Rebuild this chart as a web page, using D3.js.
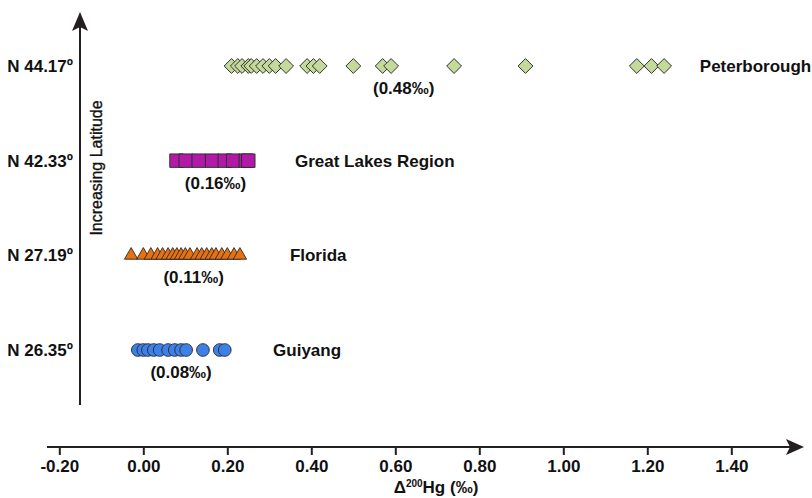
<!DOCTYPE html>
<html>
<head>
<meta charset="utf-8">
<script src="https://cdn.jsdelivr.net/npm/d3@7"></script>
<style>
  html, body { margin: 0; padding: 0; background: #fff; }
  svg { display: block; font-family: "Liberation Sans", Arial, sans-serif; }
</style>
</head>
<body>
<svg id="chart" width="812" height="498"></svg>
<script>
// Latitude rows, top to bottom
const latitudes = ["N 44.17º", "N 42.33º", "N 27.19º", "N 26.35º"];
const sites = ["Peterborough", "Great Lakes Region", "Florida", "Guiyang"];
const meanLabels = ["(0.48‰)", "(0.16‰)", "(0.11‰)", "(0.08‰)"];

// Δ200Hg values (‰) per site
const peterborough = [0.21, 0.225, 0.235, 0.25, 0.257, 0.27, 0.285, 0.30, 0.315, 0.34,
                      0.39, 0.405, 0.42, 0.50, 0.57, 0.59, 0.74, 0.91, 1.175, 1.21, 1.24];
const greatLakes = [0.079, 0.101, 0.132, 0.164, 0.194, 0.214, 0.244, 0.25];
const florida = [-0.029, 0.0, 0.018, 0.034, 0.046, 0.059, 0.07, 0.08, 0.09, 0.1,
                 0.111, 0.128, 0.139, 0.151, 0.163, 0.173, 0.187, 0.2, 0.216, 0.23];
const guiyang = [-0.013, 0.0, 0.011, 0.025, 0.039, 0.059, 0.075, 0.09, 0.102, 0.142, 0.182, 0.194];

const xTicks = [-0.2, 0, 0.2, 0.4, 0.6, 0.8, 1.0, 1.2, 1.4];

// Per-row drawing style
const rows = [
  { values: peterborough, shape: "diamond",  fill: "#C5D99B", labelAt: 0.62,  nameAt: 1.325 },
  { values: greatLakes,   shape: "square",   fill: "#B01AA6", labelAt: 0.172, nameAt: 0.361 },
  { values: florida,      shape: "triangle", fill: "#E8700E", labelAt: 0.12,  nameAt: 0.349 },
  { values: guiyang,      shape: "circle",   fill: "#3D80E8", labelAt: 0.09,  nameAt: 0.309 }
];

const svg = d3.select("#chart");
const ink = "#231f20";
const fs = 17;

const x = d3.scaleLinear().domain([-0.2, 1.4]).range([59.3, 731.3]);
const y = d3.scalePoint().domain(latitudes).range([66, 350]);

const axisY = 447;
const yAxisX = 80;

// Horizontal axis with arrow
const xAxis = d3.axisBottom(x)
  .tickValues(xTicks)
  .tickSize(8)
  .tickPadding(5)
  .tickFormat(d => d3.format(".2f")(d).replace("−", "-"));

const gx = svg.append("g").attr("transform", `translate(0,${axisY})`).call(xAxis);
gx.select(".domain").remove();
gx.selectAll(".tick line").attr("stroke", ink).attr("stroke-width", 2);
gx.selectAll(".tick text")
  .attr("fill", "#111").attr("font-size", fs).attr("font-weight", "bold")
  .attr("font-family", "Liberation Sans, Arial, sans-serif");

svg.append("line")
  .attr("x1", 47).attr("x2", 792).attr("y1", axisY).attr("y2", axisY)
  .attr("stroke", ink).attr("stroke-width", 2);
svg.append("path")
  .attr("d", `M804,${axisY} L786,${axisY - 8} L790,${axisY} L786,${axisY + 8} Z`)
  .attr("fill", ink);

// Axis title with superscript mass number
const title = svg.append("text")
  .attr("x", 436).attr("y", 493)
  .attr("text-anchor", "middle")
  .attr("font-size", fs).attr("font-weight", "bold").attr("fill", "#111");
title.append("tspan").text("Δ");
title.append("tspan").attr("font-size", 10).attr("dy", -6).text("200");
title.append("tspan").attr("dy", 6).text("Hg (‰)");

// Vertical latitude arrow
svg.append("line")
  .attr("x1", yAxisX).attr("x2", yAxisX).attr("y1", 405).attr("y2", 26)
  .attr("stroke", ink).attr("stroke-width", 2);
svg.append("path")
  .attr("d", `M${yAxisX},12 L${yAxisX + 8},31 L${yAxisX},27 L${yAxisX - 8},31 Z`)
  .attr("fill", ink);

svg.append("text")
  .attr("transform", `translate(102,168) rotate(-90)`)
  .attr("text-anchor", "middle")
  .attr("font-size", 16).attr("fill", "#111")
  .attr("stroke", "#111").attr("stroke-width", 0.35)
  .text("Increasing Latitude");

// Latitude labels
svg.selectAll(".lat")
  .data(latitudes)
  .join("text")
  .attr("class", "lat")
  .attr("x", 73).attr("y", d => y(d) + 6)
  .attr("text-anchor", "end")
  .attr("font-size", fs).attr("font-weight", "bold").attr("fill", "#111")
  .text(d => d);

// Markers
const symbolFor = {
  diamond: d3.symbol().type(d3.symbolSquare).size(110),
  square: d3.symbol().type(d3.symbolSquare).size(182),
  triangle: d3.symbol().type(d3.symbolTriangle).size(78),
  circle: d3.symbol().type(d3.symbolCircle).size(127)
};

rows.forEach((row, i) => {
  const cy = y(latitudes[i]);
  const g = svg.append("g");
  g.selectAll("path")
    .data(row.values)
    .join("path")
    .attr("d", symbolFor[row.shape])
    .attr("transform", d => {
      const base = `translate(${x(d)},${cy})`;
      return row.shape === "diamond" ? base + " rotate(45)" : base;
    })
    .attr("fill", row.fill)
    .attr("stroke", "#2a2a2a")
    .attr("stroke-width", 0.9);

  // mean value under the row
  svg.append("text")
    .attr("x", x(row.labelAt)).attr("y", cy + 28)
    .attr("text-anchor", "middle")
    .attr("font-size", fs).attr("font-weight", "bold").attr("fill", "#111")
    .text(meanLabels[i]);

  // site name
  svg.append("text")
    .attr("x", x(row.nameAt)).attr("y", cy + 6)
    .attr("font-size", fs).attr("font-weight", "bold").attr("fill", "#111")
    .text(sites[i]);
});
</script>
</body>
</html>
